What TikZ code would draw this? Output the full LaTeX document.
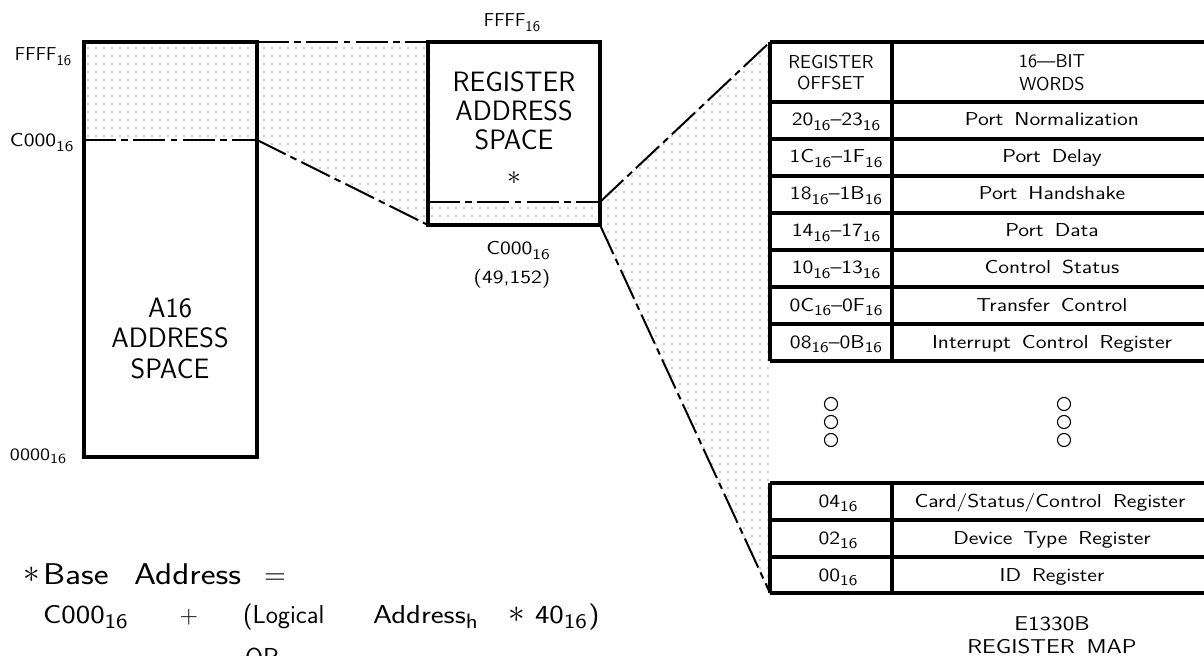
\documentclass[tikz,border=0pt]{standalone}
\usepackage{graphicx}
\usetikzlibrary{patterns.meta}
\newcommand{\wide}[1]{\scalebox{1.18}[1]{#1}}
\newcommand{\subx}[1]{\raisebox{-0.5ex}{\scalebox{0.8}{#1}}}
\newcommand{\sxt}{\subx{16}}
\newcommand{\widesp}{\spaceskip=0.5em\relax}
\tikzset{
  every node/.style={inner sep=0pt,outer sep=0pt},
  heavy/.style={line width=2.3pt},
  phantom/.style={line width=1.5pt,dash pattern=on 24pt off 4pt on 5pt off 4pt},
  dotfill/.style={pattern={Dots[radius=0.45pt,distance=6pt]},pattern color=black!85},
  bigtxt/.style={font=\fontsize{21}{23}\selectfont\sffamily,anchor=base},
  tabtxt/.style={font=\fontsize{14}{16}\selectfont\sffamily\widesp,anchor=base},
  captxt/.style={font=\fontsize{15}{17}\selectfont\sffamily\widesp,anchor=base},
  lbl/.style={font=\fontsize{14}{16}\selectfont\sffamily,anchor=base west},
  eqa/.style={font=\fontsize{22.5}{25}\selectfont\sffamily,anchor=base west},
  eqb/.style={font=\fontsize{19.5}{22}\selectfont\sffamily,anchor=base west},
  ring/.style={line width=0.8pt},
}
\begin{document}
\begin{tikzpicture}[x=0.75pt,y=-0.75pt]
\useasboundingbox (0,0) rectangle (1204,656);
% corner coordinates
\coordinate (aTL) at (84,42);   \coordinate (aTR) at (257,42);
\coordinate (aML) at (84,140);  \coordinate (aMR) at (257,140);
\coordinate (aBL) at (84,457);  \coordinate (aBR) at (257,457);
\coordinate (rTL) at (428,42);  \coordinate (rTR) at (600,42);
\coordinate (rIL) at (428,202); \coordinate (rIR) at (600,202);
\coordinate (rBL) at (428,225); \coordinate (rBR) at (600,225);
\coordinate (tTL) at (770,42);  \coordinate (tBL) at (770,593);
% dotted fills
\fill[dotfill] (aTL) rectangle (aMR);
\fill[dotfill] (aTR) -- (rTL) -- (rBL) -- (aMR) -- cycle;
\fill[dotfill] (rIL) rectangle (rBR);
\fill[dotfill] (rIR) -- (tTL) -- (tBL) -- (rBR) -- cycle;
% A16 space
\draw[heavy] (aTL) rectangle (aBR);
\draw[phantom,line width=2pt] (aML) -- (aMR);
\draw[phantom] (aTR) -- (rTL);
\draw[phantom] (aMR) -- (rBL);
% register space
\draw[heavy] (rTL) rectangle (rBR);
\draw[phantom] (rIL) -- (rIR);
\draw[phantom] (rIR) -- (tTL);
\draw[phantom] (rBR) -- (tBL);
% table
\foreach \y [count=\i] in {42,102,139,176,213,250,287,324,361,483,520,557,593}{
  \coordinate (hl\i) at (770,\y); \coordinate (hr\i) at (1212,\y);
  \draw[heavy] (hl\i) -- (hr\i);
}
\coordinate (v1a) at (892,42);  \coordinate (v1b) at (892,361);
\coordinate (v2a) at (892,483); \coordinate (v2b) at (892,593);
\draw[heavy] (hl1) -- (hl9);
\draw[heavy] (v1a) -- (v1b);
\draw[heavy] (hl10) -- (hl13);
\draw[heavy] (v2a) -- (v2b);
% ellipsis rings
\foreach \y [count=\i] in {404,422,440}{
  \draw[ring] (831,\y) circle[radius=4.9pt];
  \draw[ring] (1064,\y) circle[radius=4.9pt];
}
% left labels
\node[lbl] (lf) at (15,61) {FFFF\sxt};
\node[lbl] (lc) at (10,147) {\wide{C000\sxt}};
\node[lbl,font=\fontsize{13}{15}\selectfont\sffamily] (lz) at (10,460) {\wide{0000\sxt}};
% A16 text
\node[bigtxt] (a1) at (170,317) {A16};
\node[bigtxt] (a2) at (170,347) {ADDRESS};
\node[bigtxt] (a3) at (170,378) {SPACE};
% register text
\node[lbl,anchor=base] (rf) at (512,27) {FFFF\sxt};
\node[bigtxt] (r1) at (514,92) {REGISTER};
\node[bigtxt] (r2) at (514,121) {ADDRESS};
\node[bigtxt] (r3) at (514,150) {SPACE};
\node[font=\fontsize{22}{24}\selectfont] (r4) at (514,178) {$\ast$};
\node[lbl,anchor=base] (rc) at (518,255) {\wide{C000\sxt}};
\node[lbl,anchor=base] (rn) at (512,283) {\wide{(49,152)}};
% table header
\node[tabtxt] (h1) at (831,69) {REGISTER};
\node[tabtxt] (h2) at (831,90) {OFFSET};
\node[tabtxt] (h3) at (1052,68) {16\textemdash BIT};
\node[tabtxt] (h4) at (1052,91) {WORDS};
% rows
\node[tabtxt] (o1) at (836,126) {\wide{20\sxt\textendash 23\sxt}};
\node[tabtxt] (w1) at (1052,126) {\wide{Port Normalization}};
\node[tabtxt] (o2) at (836,163) {\wide{1C\sxt\textendash 1F\sxt}};
\node[tabtxt] (w2) at (1052,163) {\wide{Port Delay}};
\node[tabtxt] (o3) at (836,200) {\wide{18\sxt\textendash 1B\sxt}};
\node[tabtxt] (w3) at (1052,200) {\wide{Port Handshake}};
\node[tabtxt] (o4) at (836,237) {\wide{14\sxt\textendash 17\sxt}};
\node[tabtxt] (w4) at (1052,237) {\wide{Port Data}};
\node[tabtxt] (o5) at (836,274) {\wide{10\sxt\textendash 13\sxt}};
\node[tabtxt] (w5) at (1052,274) {\wide{Control Status}};
\node[tabtxt] (o6) at (836,311) {\wide{0C\sxt\textendash 0F\sxt}};
\node[tabtxt] (w6) at (1052,311) {\wide{Transfer Control}};
\node[tabtxt] (o7) at (836,348) {\wide{08\sxt\textendash 0B\sxt}};
\node[tabtxt] (w7) at (1052,348) {\wide{Interrupt Control Register}};
\node[tabtxt] (o8) at (838,507) {\wide{04\sxt}};
\node[tabtxt] (w8) at (1050,507) {\wide{Card/Status/Control Register}};
\node[tabtxt] (o9) at (838,544) {\wide{02\sxt}};
\node[tabtxt] (w9) at (1052,544) {\wide{Device Type Register}};
\node[tabtxt] (o10) at (838,581) {\wide{00\sxt}};
\node[tabtxt] (w10) at (1052,581) {\wide{ID Register}};
% caption
\node[captxt] (m1) at (1052,630) {\wide{E1330B}};
\node[captxt] (m2) at (1052,653) {\wide{REGISTER MAP}};
% formula
\node[font=\fontsize{30}{32}\selectfont] (s1) at (32,575) {$\ast$};
\node[eqa] (s2) at (43,584) {\wide{Base}};
\node[eqa] (s3) at (134,584) {\wide{Address}};
\node[eqa] (s4) at (264,584) {=};
\node[eqb] (f1) at (43,623) {\wide{C000\sxt}};
\node[font=\fontsize{19}{21}\selectfont\sffamily] (f2) at (189,617) {+};
\node[eqb] (f3) at (243,623) {(Logical};
\node[eqb] (f4) at (373,623) {\wide{Address\subx{h}}};
\node[font=\fontsize{26}{28}\selectfont] (f5) at (517,615) {$\ast$};
\node[eqb] (f6) at (535,623) {\wide{40\sxt\hspace{1pt})}};
\node[eqb] (f7) at (245,666) {OR};
\end{tikzpicture}
\end{document}
